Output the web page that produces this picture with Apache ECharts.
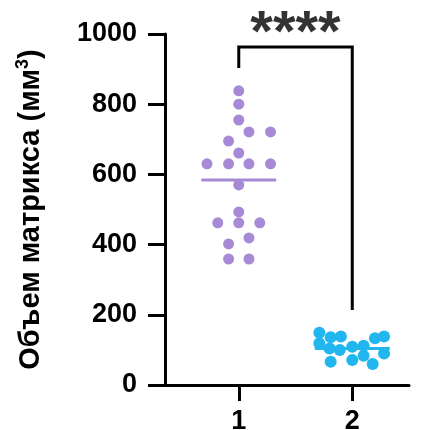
<!DOCTYPE html>
<html><head><meta charset="utf-8">
<script src="https://cdn.jsdelivr.net/npm/echarts@6/dist/echarts.min.js"></script>
<style>html,body{margin:0;padding:0;background:#fff}#c{width:423px;height:430px}</style>
</head><body><div id="c"></div>
<script>
// ---- data ----
const categories = [1, 2];
const categoryLabels = ['1', '2'];
const group1Values = [838, 800, 755, 721, 721, 695, 661, 630, 630, 630, 630, 570, 493, 462, 462, 462, 419, 402, 359, 359];
const group2Values = [149, 136, 138, 133, 138, 119, 104, 100, 109, 112, 90, 66, 71, 83, 60];
const meanValues = [584, 104];
const yTicks = [0, 200, 400, 600, 800, 1000];
const significance = '****';
const bracketLevels = [903, 963, 214]; // left end, top, right end
// ---- layout (horizontal scatter offsets) ----
const group1Jitter = [0, 0, 0, 0.09, 0.28, -0.09, 0, -0.28, -0.09, 0.09, 0.28, 0, 0, -0.185, 0, 0.185, 0.09, -0.09, -0.09, 0.09];
const group2Jitter = [-0.29, -0.19, -0.1, 0.2, 0.28, -0.29, -0.2, -0.11, 0, 0.1, 0.28, -0.19, 0, 0.1, 0.18];
const meanHalfWidth = 0.33;

const purple = '#a68ad6';
const cyan = '#22b6ef';
const font = 'Liberation Sans, Arial, sans-serif';

const s1 = group1Values.map((v, i) => [categories[0] + group1Jitter[i], v]);
const s2 = group2Values.map((v, i) => [categories[1] + group2Jitter[i], v]);

const chart = echarts.init(document.getElementById('c'), null, {renderer: 'canvas'});
chart.setOption({
  animation: false,
  grid: {left: 165, right: 14, top: 34, bottom: 45, containLabel: false, outerBoundsMode: 'none'},
  xAxis: {
    type: 'value', min: 0.35, max: 2.5,
    axisLine: {lineStyle: {color: '#000', width: 3}},
    axisTick: {show: true, length: 16, lineStyle: {color: '#000', width: 3}, customValues: categories},
    axisLabel: {customValues: categories, formatter: v => categoryLabels[categories.indexOf(v)], color: '#000', fontSize: 27, fontWeight: 'bold', fontFamily: font, margin: 23},
    splitLine: {show: false}
  },
  yAxis: {
    type: 'value', min: yTicks[0], max: yTicks[yTicks.length - 1], interval: 200,
    axisLine: {show: true, lineStyle: {color: '#000', width: 3}},
    axisTick: {show: true, length: 17, lineStyle: {color: '#000', width: 3}},
    axisLabel: {color: '#000', fontSize: 27, fontWeight: 'bold', fontFamily: font, margin: 28, formatter: v => String(v)},
    splitLine: {show: false},
    name: '{n|Объем матрикса (мм}{s|3}{n|)}',
    nameLocation: 'middle', nameGap: 117, nameRotate: 90,
    nameTextStyle: {
      rich: {
        n: {fontSize: 29, fontWeight: 'bold', fontFamily: font, color: '#000', lineHeight: 34},
        s: {fontSize: 18, fontWeight: 'bold', fontFamily: font, color: '#000', verticalAlign: 'top', lineHeight: 34, padding: [0, 0, 10, 0]}
      }
    }
  },
  series: [
    {type: 'scatter', data: s1, symbolSize: 11, itemStyle: {color: purple, opacity: 1}, z: 3},
    {type: 'scatter', data: s2, symbolSize: 12, itemStyle: {color: cyan, opacity: 1}, z: 3},
    {type: 'line', data: [[categories[0] - meanHalfWidth, meanValues[0]], [categories[0] + meanHalfWidth, meanValues[0]]], symbol: 'none', lineStyle: {color: purple, width: 3}, z: 4},
    {type: 'line', data: [[categories[1] - meanHalfWidth, meanValues[1]], [categories[1] + meanHalfWidth, meanValues[1]]], symbol: 'none', lineStyle: {color: cyan, width: 3}, z: 4},
    {type: 'line', data: [[categories[0], bracketLevels[0]], [categories[0], bracketLevels[1]], [categories[1], bracketLevels[1]], [categories[1], bracketLevels[2]]], symbol: 'none', lineStyle: {color: '#000', width: 3, join: 'miter'}, z: 5},
    {type: 'scatter', data: [[(categories[0] + categories[1]) / 2, bracketLevels[1]]], symbolSize: 0, silent: true,
      label: {show: true, formatter: significance, position: 'top', distance: -2, color: '#000', fontSize: 58, fontWeight: 'bold', fontFamily: font, offset: [0, 15]}}
  ]
});
</script></body></html>
